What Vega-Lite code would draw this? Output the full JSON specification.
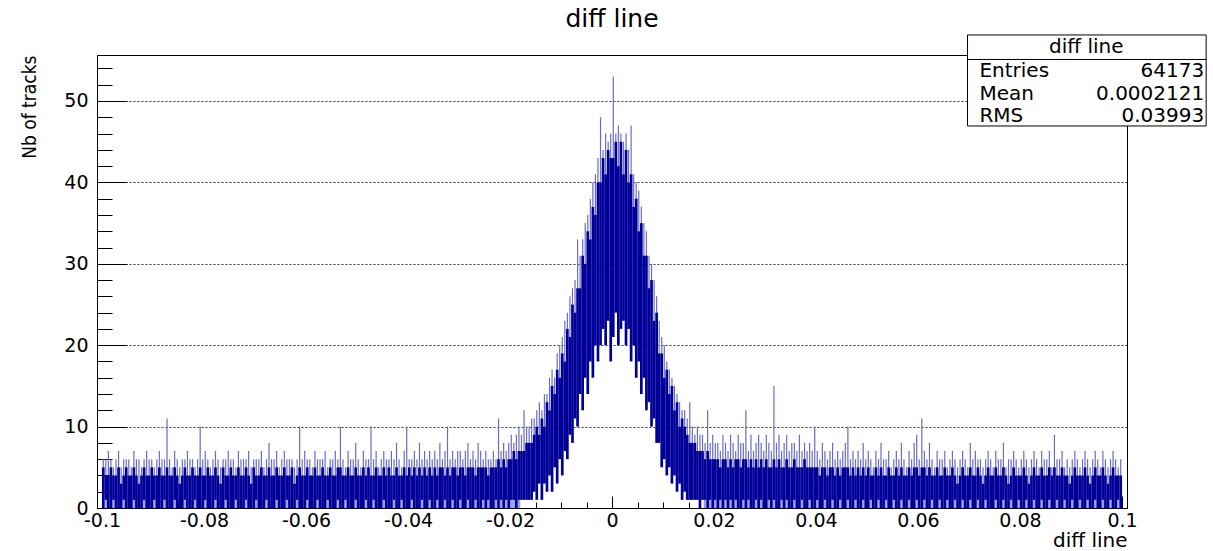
{
"$schema":"https://vega.github.io/schema/vega-lite/v6.json",
"width":1030,"height":453,"autosize":"none",
"padding":{"left":97,"top":55,"right":86,"bottom":43},
"background":"white",
"config":{"view":{"stroke":"black","strokeWidth":1},"font":"DejaVu Sans"},
"title":{"text":"diff line","font":"DejaVu Sans","fontSize":25,"fontWeight":"normal","color":"black","anchor":"middle","frame":"group","baseline":"alphabetic","offset":7,"dy":25},
"resolve":{"axis":{"x":"independent","y":"independent"}},
"data":{"values":[
{"x":-0.09975,"l":0,"h":5,"p":6},{"x":-0.09925,"l":1,"h":4,"p":6},{"x":-0.09875,"l":0,"h":4,"p":7},{"x":-0.09825,"l":0,"h":5,"p":6},{"x":-0.09775,"l":1,"h":4,"p":5},{"x":-0.09725,"l":0,"h":4,"p":6},{"x":-0.09675,"l":0,"h":5,"p":7},{"x":-0.09625,"l":0,"h":3,"p":5},{"x":-0.09575,"l":1,"h":4,"p":6},{"x":-0.09525,"l":0,"h":5,"p":6},
{"x":-0.09475,"l":0,"h":4,"p":6},{"x":-0.09425,"l":0,"h":4,"p":5},{"x":-0.09375,"l":1,"h":5,"p":7},{"x":-0.09325,"l":0,"h":4,"p":6},{"x":-0.09275,"l":0,"h":3,"p":6},{"x":-0.09225,"l":0,"h":4,"p":5},{"x":-0.09175,"l":1,"h":5,"p":6},{"x":-0.09125,"l":0,"h":4,"p":7},{"x":-0.09075,"l":0,"h":4,"p":6},{"x":-0.09025,"l":0,"h":5,"p":6},
{"x":-0.08975,"l":1,"h":4,"p":5},{"x":-0.08925,"l":0,"h":4,"p":6},{"x":-0.08875,"l":0,"h":5,"p":7},{"x":-0.08825,"l":0,"h":4,"p":6},{"x":-0.08775,"l":1,"h":4,"p":6},{"x":-0.08725,"l":0,"h":5,"p":11},{"x":-0.08675,"l":0,"h":4,"p":6},{"x":-0.08625,"l":0,"h":4,"p":5},{"x":-0.08575,"l":1,"h":5,"p":7},{"x":-0.08525,"l":0,"h":4,"p":6},
{"x":-0.08475,"l":0,"h":3,"p":5},{"x":-0.08425,"l":0,"h":4,"p":6},{"x":-0.08375,"l":1,"h":5,"p":6},{"x":-0.08325,"l":0,"h":4,"p":7},{"x":-0.08275,"l":0,"h":4,"p":6},{"x":-0.08225,"l":0,"h":5,"p":6},{"x":-0.08175,"l":1,"h":4,"p":5},{"x":-0.08125,"l":0,"h":4,"p":6},{"x":-0.08075,"l":0,"h":5,"p":10},{"x":-0.08025,"l":0,"h":4,"p":6},
{"x":-0.07975,"l":1,"h":4,"p":7},{"x":-0.07925,"l":0,"h":5,"p":6},{"x":-0.07875,"l":0,"h":4,"p":5},{"x":-0.07825,"l":0,"h":4,"p":6},{"x":-0.07775,"l":1,"h":5,"p":7},{"x":-0.07725,"l":0,"h":4,"p":6},{"x":-0.07675,"l":0,"h":3,"p":5},{"x":-0.07625,"l":0,"h":5,"p":6},{"x":-0.07575,"l":1,"h":4,"p":6},{"x":-0.07525,"l":0,"h":4,"p":7},
{"x":-0.07475,"l":0,"h":5,"p":6},{"x":-0.07425,"l":0,"h":4,"p":6},{"x":-0.07375,"l":1,"h":4,"p":5},{"x":-0.07325,"l":0,"h":5,"p":7},{"x":-0.07275,"l":0,"h":4,"p":6},{"x":-0.07225,"l":0,"h":4,"p":6},{"x":-0.07175,"l":1,"h":5,"p":6},{"x":-0.07125,"l":0,"h":4,"p":7},{"x":-0.07075,"l":0,"h":3,"p":5},{"x":-0.07025,"l":0,"h":5,"p":6},
{"x":-0.06975,"l":1,"h":4,"p":6},{"x":-0.06925,"l":0,"h":4,"p":6},{"x":-0.06875,"l":0,"h":5,"p":7},{"x":-0.06825,"l":0,"h":4,"p":5},{"x":-0.06775,"l":1,"h":4,"p":6},{"x":-0.06725,"l":0,"h":5,"p":8},{"x":-0.06675,"l":0,"h":4,"p":6},{"x":-0.06625,"l":0,"h":4,"p":6},{"x":-0.06575,"l":1,"h":5,"p":7},{"x":-0.06525,"l":0,"h":4,"p":5},
{"x":-0.06475,"l":0,"h":4,"p":6},{"x":-0.06425,"l":0,"h":5,"p":7},{"x":-0.06375,"l":1,"h":4,"p":6},{"x":-0.06325,"l":0,"h":4,"p":6},{"x":-0.06275,"l":0,"h":5,"p":6},{"x":-0.06225,"l":0,"h":3,"p":5},{"x":-0.06175,"l":1,"h":4,"p":6},{"x":-0.06125,"l":0,"h":5,"p":10},{"x":-0.06075,"l":0,"h":4,"p":6},{"x":-0.06025,"l":0,"h":4,"p":7},
{"x":-0.05975,"l":1,"h":5,"p":6},{"x":-0.05925,"l":0,"h":4,"p":6},{"x":-0.05875,"l":0,"h":4,"p":5},{"x":-0.05825,"l":0,"h":5,"p":7},{"x":-0.05775,"l":1,"h":4,"p":6},{"x":-0.05725,"l":0,"h":4,"p":6},{"x":-0.05675,"l":0,"h":5,"p":6},{"x":-0.05625,"l":0,"h":4,"p":7},{"x":-0.05575,"l":1,"h":4,"p":5},{"x":-0.05525,"l":0,"h":5,"p":6},
{"x":-0.05475,"l":0,"h":4,"p":6},{"x":-0.05425,"l":0,"h":4,"p":7},{"x":-0.05375,"l":1,"h":5,"p":6},{"x":-0.05325,"l":0,"h":5,"p":10},{"x":-0.05275,"l":0,"h":4,"p":6},{"x":-0.05225,"l":1,"h":4,"p":5},{"x":-0.05175,"l":0,"h":5,"p":7},{"x":-0.05125,"l":0,"h":4,"p":6},{"x":-0.05075,"l":0,"h":4,"p":6},{"x":-0.05025,"l":1,"h":5,"p":8},
{"x":-0.04975,"l":0,"h":4,"p":6},{"x":-0.04925,"l":0,"h":4,"p":5},{"x":-0.04875,"l":0,"h":5,"p":7},{"x":-0.04825,"l":1,"h":4,"p":6},{"x":-0.04775,"l":0,"h":5,"p":6},{"x":-0.04725,"l":0,"h":4,"p":10},{"x":-0.04675,"l":1,"h":4,"p":6},{"x":-0.04625,"l":0,"h":5,"p":7},{"x":-0.04575,"l":0,"h":4,"p":5},{"x":-0.04525,"l":0,"h":4,"p":6},
{"x":-0.04475,"l":1,"h":5,"p":7},{"x":-0.04425,"l":0,"h":4,"p":6},{"x":-0.04375,"l":0,"h":5,"p":6},{"x":-0.04325,"l":0,"h":4,"p":7},{"x":-0.04275,"l":1,"h":4,"p":6},{"x":-0.04225,"l":0,"h":5,"p":8},{"x":-0.04175,"l":0,"h":4,"p":6},{"x":-0.04125,"l":1,"h":4,"p":5},{"x":-0.04075,"l":0,"h":5,"p":7},{"x":-0.04025,"l":0,"h":4,"p":10},
{"x":-0.03975,"l":0,"h":5,"p":6},{"x":-0.03925,"l":1,"h":4,"p":6},{"x":-0.03875,"l":0,"h":5,"p":7},{"x":-0.03825,"l":0,"h":4,"p":6},{"x":-0.03775,"l":0,"h":5,"p":8},{"x":-0.03725,"l":1,"h":4,"p":6},{"x":-0.03675,"l":0,"h":5,"p":7},{"x":-0.03625,"l":0,"h":4,"p":6},{"x":-0.03575,"l":1,"h":5,"p":7},{"x":-0.03525,"l":0,"h":4,"p":6},
{"x":-0.03475,"l":0,"h":5,"p":7},{"x":-0.03425,"l":1,"h":4,"p":6},{"x":-0.03375,"l":0,"h":5,"p":8},{"x":-0.03325,"l":0,"h":5,"p":6},{"x":-0.03275,"l":1,"h":4,"p":7},{"x":-0.03225,"l":0,"h":5,"p":10},{"x":-0.03175,"l":0,"h":4,"p":6},{"x":-0.03125,"l":1,"h":5,"p":7},{"x":-0.03075,"l":0,"h":5,"p":6},{"x":-0.03025,"l":0,"h":4,"p":7},
{"x":-0.02975,"l":1,"h":5,"p":7},{"x":-0.02925,"l":0,"h":5,"p":6},{"x":-0.02875,"l":0,"h":4,"p":7},{"x":-0.02825,"l":1,"h":5,"p":8},{"x":-0.02775,"l":0,"h":5,"p":6},{"x":-0.02725,"l":0,"h":5,"p":7},{"x":-0.02675,"l":1,"h":4,"p":6},{"x":-0.02625,"l":0,"h":5,"p":8},{"x":-0.02575,"l":0,"h":5,"p":7},{"x":-0.02525,"l":1,"h":5,"p":6},
{"x":-0.02475,"l":0,"h":5,"p":7},{"x":-0.02425,"l":1,"h":4,"p":6},{"x":-0.02375,"l":0,"h":5,"p":6},{"x":-0.02325,"l":0,"h":5,"p":7},{"x":-0.02275,"l":1,"h":5,"p":6},{"x":-0.02225,"l":0,"h":6,"p":11},{"x":-0.02175,"l":1,"h":5,"p":7},{"x":-0.02125,"l":0,"h":6,"p":8},{"x":-0.02075,"l":1,"h":5,"p":7},{"x":-0.02025,"l":0,"h":6,"p":8},
{"x":-0.01975,"l":1,"h":6,"p":9},{"x":-0.01925,"l":1,"h":7,"p":8},{"x":-0.01875,"l":0,"h":6,"p":9},{"x":-0.01825,"l":1,"h":7,"p":10},{"x":-0.01775,"l":1,"h":7,"p":9},{"x":-0.01725,"l":1,"h":7,"p":12},{"x":-0.01675,"l":1,"h":8,"p":10},{"x":-0.01625,"l":1,"h":8,"p":10},{"x":-0.01575,"l":1,"h":8,"p":11},{"x":-0.01525,"l":2,"h":9,"p":11},
{"x":-0.01475,"l":1,"h":10,"p":12},{"x":-0.01425,"l":3,"h":9,"p":13},{"x":-0.01375,"l":1,"h":11,"p":12},{"x":-0.01325,"l":3,"h":10,"p":14},{"x":-0.01275,"l":2,"h":13,"p":14},{"x":-0.01225,"l":4,"h":12,"p":16},{"x":-0.01175,"l":2,"h":15,"p":17},{"x":-0.01125,"l":5,"h":14,"p":16},{"x":-0.01075,"l":3,"h":17,"p":19},{"x":-0.01025,"l":6,"h":16,"p":20},
{"x":-0.00975,"l":4,"h":19,"p":21},{"x":-0.00925,"l":7,"h":18,"p":23},{"x":-0.00875,"l":6,"h":22,"p":24},{"x":-0.00825,"l":9,"h":21,"p":26},{"x":-0.00775,"l":8,"h":25,"p":27},{"x":-0.00725,"l":11,"h":24,"p":28},{"x":-0.00675,"l":10,"h":27,"p":33},{"x":-0.00625,"l":14,"h":27,"p":31},{"x":-0.00575,"l":12,"h":31,"p":33},{"x":-0.00525,"l":16,"h":30,"p":35},
{"x":-0.00475,"l":14,"h":34,"p":36},{"x":-0.00425,"l":18,"h":33,"p":38},{"x":-0.00375,"l":16,"h":37,"p":40},{"x":-0.00325,"l":20,"h":36,"p":41},{"x":-0.00275,"l":18,"h":40,"p":43},{"x":-0.00225,"l":20,"h":40,"p":48},{"x":-0.00175,"l":22,"h":43,"p":44},{"x":-0.00125,"l":20,"h":41,"p":46},{"x":-0.00075,"l":23,"h":44,"p":45},{"x":-0.00025,"l":18,"h":43,"p":46},
{"x":0.00025,"l":21,"h":43,"p":53},{"x":0.00075,"l":24,"h":45,"p":46},{"x":0.00125,"l":20,"h":42,"p":47},{"x":0.00175,"l":22,"h":45,"p":46},{"x":0.00225,"l":23,"h":41,"p":45},{"x":0.00275,"l":20,"h":44,"p":46},{"x":0.00325,"l":22,"h":40,"p":44},{"x":0.00375,"l":18,"h":41,"p":47},{"x":0.00425,"l":20,"h":37,"p":41},{"x":0.00475,"l":16,"h":38,"p":40},
{"x":0.00525,"l":18,"h":34,"p":39},{"x":0.00575,"l":14,"h":35,"p":37},{"x":0.00625,"l":16,"h":31,"p":35},{"x":0.00675,"l":12,"h":31,"p":34},{"x":0.00725,"l":13,"h":27,"p":31},{"x":0.00775,"l":10,"h":28,"p":30},{"x":0.00825,"l":11,"h":23,"p":28},{"x":0.00875,"l":8,"h":24,"p":26},{"x":0.00925,"l":8,"h":19,"p":23},{"x":0.00975,"l":5,"h":19,"p":21},
{"x":0.01025,"l":6,"h":16,"p":20},{"x":0.01075,"l":4,"h":17,"p":18},{"x":0.01125,"l":5,"h":14,"p":17},{"x":0.01175,"l":3,"h":15,"p":16},{"x":0.01225,"l":4,"h":12,"p":15},{"x":0.01275,"l":2,"h":13,"p":14},{"x":0.01325,"l":3,"h":10,"p":13},{"x":0.01375,"l":1,"h":11,"p":12},{"x":0.01425,"l":2,"h":10,"p":12},{"x":0.01475,"l":1,"h":9,"p":11},
{"x":0.01525,"l":1,"h":8,"p":13},{"x":0.01575,"l":1,"h":8,"p":10},{"x":0.01625,"l":1,"h":8,"p":9},{"x":0.01675,"l":1,"h":7,"p":10},{"x":0.01725,"l":0,"h":7,"p":9},{"x":0.01775,"l":1,"h":7,"p":9},{"x":0.01825,"l":1,"h":6,"p":8},{"x":0.01875,"l":0,"h":7,"p":12},{"x":0.01925,"l":1,"h":6,"p":8},{"x":0.01975,"l":0,"h":6,"p":9},
{"x":0.02025,"l":1,"h":6,"p":8},{"x":0.02075,"l":0,"h":6,"p":8},{"x":0.02125,"l":1,"h":5,"p":7},{"x":0.02175,"l":0,"h":6,"p":9},{"x":0.02225,"l":1,"h":6,"p":8},{"x":0.02275,"l":0,"h":5,"p":7},{"x":0.02325,"l":1,"h":6,"p":9},{"x":0.02375,"l":0,"h":5,"p":8},{"x":0.02425,"l":1,"h":6,"p":7},{"x":0.02475,"l":0,"h":6,"p":9},
{"x":0.02525,"l":0,"h":5,"p":8},{"x":0.02575,"l":1,"h":6,"p":8},{"x":0.02625,"l":0,"h":6,"p":12},{"x":0.02675,"l":1,"h":5,"p":7},{"x":0.02725,"l":0,"h":6,"p":9},{"x":0.02775,"l":0,"h":5,"p":7},{"x":0.02825,"l":1,"h":6,"p":8},{"x":0.02875,"l":0,"h":5,"p":9},{"x":0.02925,"l":1,"h":6,"p":8},{"x":0.02975,"l":0,"h":5,"p":7},
{"x":0.03025,"l":0,"h":6,"p":9},{"x":0.03075,"l":1,"h":5,"p":8},{"x":0.03125,"l":0,"h":5,"p":7},{"x":0.03175,"l":1,"h":6,"p":15},{"x":0.03225,"l":0,"h":5,"p":8},{"x":0.03275,"l":0,"h":6,"p":9},{"x":0.03325,"l":1,"h":5,"p":7},{"x":0.03375,"l":0,"h":5,"p":8},{"x":0.03425,"l":1,"h":6,"p":9},{"x":0.03475,"l":0,"h":5,"p":7},
{"x":0.03525,"l":0,"h":5,"p":8},{"x":0.03575,"l":1,"h":6,"p":8},{"x":0.03625,"l":0,"h":5,"p":7},{"x":0.03675,"l":0,"h":5,"p":9},{"x":0.03725,"l":1,"h":5,"p":7},{"x":0.03775,"l":0,"h":6,"p":8},{"x":0.03825,"l":0,"h":5,"p":7},{"x":0.03875,"l":1,"h":5,"p":8},{"x":0.03925,"l":0,"h":5,"p":7},{"x":0.03975,"l":0,"h":5,"p":10},
{"x":0.04025,"l":1,"h":5,"p":7},{"x":0.04075,"l":0,"h":4,"p":6},{"x":0.04125,"l":0,"h":5,"p":8},{"x":0.04175,"l":1,"h":5,"p":7},{"x":0.04225,"l":0,"h":4,"p":6},{"x":0.04275,"l":0,"h":5,"p":7},{"x":0.04325,"l":1,"h":5,"p":8},{"x":0.04375,"l":0,"h":4,"p":6},{"x":0.04425,"l":0,"h":5,"p":7},{"x":0.04475,"l":1,"h":4,"p":6},
{"x":0.04525,"l":0,"h":5,"p":7},{"x":0.04575,"l":0,"h":5,"p":8},{"x":0.04625,"l":1,"h":5,"p":10},{"x":0.04675,"l":0,"h":4,"p":6},{"x":0.04725,"l":0,"h":5,"p":7},{"x":0.04775,"l":1,"h":4,"p":6},{"x":0.04825,"l":0,"h":5,"p":7},{"x":0.04875,"l":0,"h":4,"p":6},{"x":0.04925,"l":1,"h":5,"p":8},{"x":0.04975,"l":0,"h":4,"p":6},
{"x":0.05025,"l":0,"h":5,"p":7},{"x":0.05075,"l":1,"h":4,"p":6},{"x":0.05125,"l":0,"h":4,"p":5},{"x":0.05175,"l":0,"h":5,"p":7},{"x":0.05225,"l":1,"h":4,"p":6},{"x":0.05275,"l":0,"h":5,"p":8},{"x":0.05325,"l":0,"h":4,"p":6},{"x":0.05375,"l":1,"h":4,"p":6},{"x":0.05425,"l":0,"h":5,"p":7},{"x":0.05475,"l":0,"h":4,"p":5},
{"x":0.05525,"l":1,"h":4,"p":6},{"x":0.05575,"l":0,"h":5,"p":7},{"x":0.05625,"l":0,"h":4,"p":6},{"x":0.05675,"l":1,"h":5,"p":8},{"x":0.05725,"l":0,"h":4,"p":6},{"x":0.05775,"l":0,"h":4,"p":5},{"x":0.05825,"l":1,"h":5,"p":7},{"x":0.05875,"l":0,"h":4,"p":6},{"x":0.05925,"l":0,"h":5,"p":8},{"x":0.05975,"l":1,"h":5,"p":9},
{"x":0.06025,"l":0,"h":4,"p":6},{"x":0.06075,"l":0,"h":5,"p":11},{"x":0.06125,"l":1,"h":5,"p":7},{"x":0.06175,"l":0,"h":4,"p":6},{"x":0.06225,"l":0,"h":5,"p":8},{"x":0.06275,"l":1,"h":4,"p":6},{"x":0.06325,"l":0,"h":4,"p":5},{"x":0.06375,"l":0,"h":5,"p":7},{"x":0.06425,"l":1,"h":4,"p":6},{"x":0.06475,"l":0,"h":4,"p":6},
{"x":0.06525,"l":0,"h":5,"p":7},{"x":0.06575,"l":1,"h":4,"p":5},{"x":0.06625,"l":0,"h":4,"p":6},{"x":0.06675,"l":0,"h":5,"p":7},{"x":0.06725,"l":1,"h":4,"p":6},{"x":0.06775,"l":0,"h":3,"p":5},{"x":0.06825,"l":0,"h":4,"p":6},{"x":0.06875,"l":1,"h":5,"p":7},{"x":0.06925,"l":0,"h":4,"p":6},{"x":0.06975,"l":0,"h":4,"p":5},
{"x":0.07025,"l":1,"h":5,"p":8},{"x":0.07075,"l":0,"h":4,"p":6},{"x":0.07125,"l":0,"h":4,"p":7},{"x":0.07175,"l":1,"h":5,"p":6},{"x":0.07225,"l":0,"h":4,"p":6},{"x":0.07275,"l":0,"h":3,"p":5},{"x":0.07325,"l":1,"h":4,"p":6},{"x":0.07375,"l":0,"h":5,"p":7},{"x":0.07425,"l":0,"h":4,"p":6},{"x":0.07475,"l":0,"h":4,"p":5},
{"x":0.07525,"l":1,"h":5,"p":7},{"x":0.07575,"l":0,"h":4,"p":6},{"x":0.07625,"l":0,"h":4,"p":6},{"x":0.07675,"l":1,"h":5,"p":8},{"x":0.07725,"l":0,"h":4,"p":5},{"x":0.07775,"l":0,"h":3,"p":6},{"x":0.07825,"l":1,"h":4,"p":6},{"x":0.07875,"l":0,"h":5,"p":7},{"x":0.07925,"l":0,"h":4,"p":6},{"x":0.07975,"l":1,"h":4,"p":5},
{"x":0.08025,"l":0,"h":4,"p":6},{"x":0.08075,"l":0,"h":5,"p":7},{"x":0.08125,"l":1,"h":4,"p":6},{"x":0.08175,"l":0,"h":3,"p":5},{"x":0.08225,"l":0,"h":4,"p":6},{"x":0.08275,"l":1,"h":5,"p":7},{"x":0.08325,"l":0,"h":4,"p":6},{"x":0.08375,"l":0,"h":4,"p":5},{"x":0.08425,"l":1,"h":5,"p":7},{"x":0.08475,"l":0,"h":4,"p":6},
{"x":0.08525,"l":0,"h":4,"p":6},{"x":0.08575,"l":1,"h":5,"p":7},{"x":0.08625,"l":0,"h":4,"p":5},{"x":0.08675,"l":0,"h":5,"p":9},{"x":0.08725,"l":1,"h":4,"p":6},{"x":0.08775,"l":0,"h":4,"p":6},{"x":0.08825,"l":0,"h":5,"p":7},{"x":0.08875,"l":1,"h":4,"p":5},{"x":0.08925,"l":0,"h":4,"p":6},{"x":0.08975,"l":0,"h":3,"p":5},
{"x":0.09025,"l":1,"h":4,"p":6},{"x":0.09075,"l":0,"h":5,"p":7},{"x":0.09125,"l":0,"h":4,"p":6},{"x":0.09175,"l":1,"h":4,"p":5},{"x":0.09225,"l":0,"h":4,"p":6},{"x":0.09275,"l":0,"h":5,"p":7},{"x":0.09325,"l":1,"h":4,"p":6},{"x":0.09375,"l":0,"h":3,"p":5},{"x":0.09425,"l":0,"h":4,"p":6},{"x":0.09475,"l":1,"h":5,"p":7},
{"x":0.09525,"l":0,"h":4,"p":6},{"x":0.09575,"l":0,"h":4,"p":5},{"x":0.09625,"l":1,"h":5,"p":7},{"x":0.09675,"l":0,"h":4,"p":6},{"x":0.09725,"l":0,"h":3,"p":5},{"x":0.09775,"l":1,"h":4,"p":6},{"x":0.09825,"l":0,"h":5,"p":7},{"x":0.09875,"l":0,"h":4,"p":6},{"x":0.09925,"l":1,"h":4,"p":5},{"x":0.09975,"l":0,"h":4,"p":6}
]},
"layer":[
{"mark":{"type":"rule","color":"#6b6bc6","strokeWidth":1.2},
 "encoding":{
  "x":{"field":"x","type":"quantitative","scale":{"domain":[-0.1,0.1],"nice":false,"zero":false},
   "axis":{"orient":"bottom","title":null,"labels":false,"grid":false,
    "values":[-0.1,-0.095,-0.09,-0.085,-0.08,-0.075,-0.07,-0.065,-0.06,-0.055,-0.05,-0.045,-0.04,-0.035,-0.03,-0.025,-0.02,-0.015,-0.01,-0.005,0,0.005,0.01,0.015,0.02,0.025,0.03,0.035,0.04,0.045,0.05,0.055,0.06,0.065,0.07,0.075,0.08,0.085,0.09,0.095,0.1],
    "tickSize":-6,"tickColor":"black","domainColor":"black"}},
  "y":{"field":"h","type":"quantitative","scale":{"domain":[0,55.65],"nice":false,"zero":true},
   "axis":{"orient":"left","title":null,"labels":false,"grid":false,
    "values":[0,2,4,6,8,10,12,14,16,18,20,22,24,26,28,30,32,34,36,38,40,42,44,46,48,50,52,54],
    "tickSize":-15,"tickColor":"black","domainColor":"black"}},
  "y2":{"field":"p"}}},
{"transform":[{"filter":"abs(datum.x) > 0.018"}],
 "mark":{"type":"bar","color":"#9d9de0","width":2.7},
 "encoding":{
  "x":{"field":"x","type":"quantitative","scale":{"domain":[-0.1,0.1],"nice":false,"zero":false},"axis":null},
  "y":{"field":"l","type":"quantitative","scale":{"domain":[0,55.65],"nice":false,"zero":true},"axis":null}}},
{"mark":{"type":"rule","color":"#000099","strokeWidth":2.7},
 "encoding":{
  "x":{"field":"x","type":"quantitative","scale":{"domain":[-0.1,0.1],"nice":false,"zero":false},
   "axis":{"orient":"bottom","title":"diff line","titleFont":"DejaVu Sans","titleFontSize":20,"titleFontWeight":"normal","titleColor":"black","titleAnchor":"end","titleAlign":"right","titleBaseline":"alphabetic","titleY":38,
    "values":[-0.1,-0.08,-0.06,-0.04,-0.02,0,0.02,0.04,0.06,0.08,0.1],
    "labelExpr":"toString(datum.value)",
    "labelFont":"DejaVu Sans","labelFontSize":19,"labelColor":"black","labelOverlap":false,"labelFlush":false,"labelBaseline":"top","labelPadding":15,
    "tickSize":-12,"tickColor":"black","domainColor":"black","grid":false}},
  "y":{"field":"l","type":"quantitative","scale":{"domain":[0,55.65],"nice":false,"zero":true},
   "axis":{"orient":"left","title":"Nb of tracks","titleFont":"DejaVu Sans Condensed, Liberation Sans Narrow, DejaVu Sans","titleFontSize":19,"titleFontWeight":"normal","titleColor":"black","titleAngle":-90,"titleAnchor":"end","titleAlign":"right","titleBaseline":"alphabetic","titleX":-62,"titleY":0,
    "values":[0,10,20,30,40,50],
    "labelExpr":"toString(datum.value)",
    "labelFont":"DejaVu Sans","labelFontSize":19,"labelColor":"black","labelOverlap":false,"labelFlush":false,"labelPadding":39,
    "tickSize":-30,"tickColor":"black","domainColor":"black","grid":true,"gridDash":[2,2],"gridColor":"#333333"}},
  "y2":{"field":"h"}}},
{"data":{"values":[{}]},
 "mark":{"type":"rect","fill":"white","stroke":"black","strokeWidth":1},
 "encoding":{
  "x":{"datum":0.06971,"type":"quantitative","scale":{"domain":[-0.1,0.1],"nice":false,"zero":false},"axis":null},
  "x2":{"datum":0.1165},
  "y":{"datum":58.11,"type":"quantitative","scale":{"domain":[0,55.65],"nice":false,"zero":true},"axis":null},
  "y2":{"datum":46.93}}},
{"data":{"values":[{}]},
 "mark":{"type":"rule","color":"black","strokeWidth":1},
 "encoding":{
  "x":{"datum":0.06971,"type":"quantitative","scale":{"domain":[-0.1,0.1],"nice":false,"zero":false},"axis":null},
  "x2":{"datum":0.1165},
  "y":{"datum":55.1,"type":"quantitative","scale":{"domain":[0,55.65],"nice":false,"zero":true},"axis":null}}},
{"data":{"values":[{}]},
 "mark":{"type":"text","text":"diff line","font":"DejaVu Sans","fontSize":20,"color":"black","align":"center","baseline":"middle"},
 "encoding":{
  "x":{"datum":0.09301,"type":"quantitative","scale":{"domain":[-0.1,0.1],"nice":false,"zero":false},"axis":null},
  "y":{"datum":56.63,"type":"quantitative","scale":{"domain":[0,55.65],"nice":false,"zero":true},"axis":null}}},
{"data":{"values":[{}]},
 "mark":{"type":"text","text":"Entries","font":"DejaVu Sans","fontSize":20,"color":"black","align":"left","baseline":"middle"},
 "encoding":{
  "x":{"datum":0.07204,"type":"quantitative","scale":{"domain":[-0.1,0.1],"nice":false,"zero":false},"axis":null},
  "y":{"datum":53.69,"type":"quantitative","scale":{"domain":[0,55.65],"nice":false,"zero":true},"axis":null}}},
{"data":{"values":[{}]},
 "mark":{"type":"text","text":"64173","font":"DejaVu Sans","fontSize":20,"color":"black","align":"right","baseline":"middle"},
 "encoding":{
  "x":{"datum":0.11612,"type":"quantitative","scale":{"domain":[-0.1,0.1],"nice":false,"zero":false},"axis":null},
  "y":{"datum":53.69,"type":"quantitative","scale":{"domain":[0,55.65],"nice":false,"zero":true},"axis":null}}},
{"data":{"values":[{}]},
 "mark":{"type":"text","text":"Mean","font":"DejaVu Sans","fontSize":20,"color":"black","align":"left","baseline":"middle"},
 "encoding":{
  "x":{"datum":0.07204,"type":"quantitative","scale":{"domain":[-0.1,0.1],"nice":false,"zero":false},"axis":null},
  "y":{"datum":50.86,"type":"quantitative","scale":{"domain":[0,55.65],"nice":false,"zero":true},"axis":null}}},
{"data":{"values":[{}]},
 "mark":{"type":"text","text":"0.0002121","font":"DejaVu Sans","fontSize":20,"color":"black","align":"right","baseline":"middle"},
 "encoding":{
  "x":{"datum":0.11612,"type":"quantitative","scale":{"domain":[-0.1,0.1],"nice":false,"zero":false},"axis":null},
  "y":{"datum":50.86,"type":"quantitative","scale":{"domain":[0,55.65],"nice":false,"zero":true},"axis":null}}},
{"data":{"values":[{}]},
 "mark":{"type":"text","text":"RMS","font":"DejaVu Sans","fontSize":20,"color":"black","align":"left","baseline":"middle"},
 "encoding":{
  "x":{"datum":0.07204,"type":"quantitative","scale":{"domain":[-0.1,0.1],"nice":false,"zero":false},"axis":null},
  "y":{"datum":48.16,"type":"quantitative","scale":{"domain":[0,55.65],"nice":false,"zero":true},"axis":null}}},
{"data":{"values":[{}]},
 "mark":{"type":"text","text":"0.03993","font":"DejaVu Sans","fontSize":20,"color":"black","align":"right","baseline":"middle"},
 "encoding":{
  "x":{"datum":0.11612,"type":"quantitative","scale":{"domain":[-0.1,0.1],"nice":false,"zero":false},"axis":null},
  "y":{"datum":48.16,"type":"quantitative","scale":{"domain":[0,55.65],"nice":false,"zero":true},"axis":null}}}
]
}
